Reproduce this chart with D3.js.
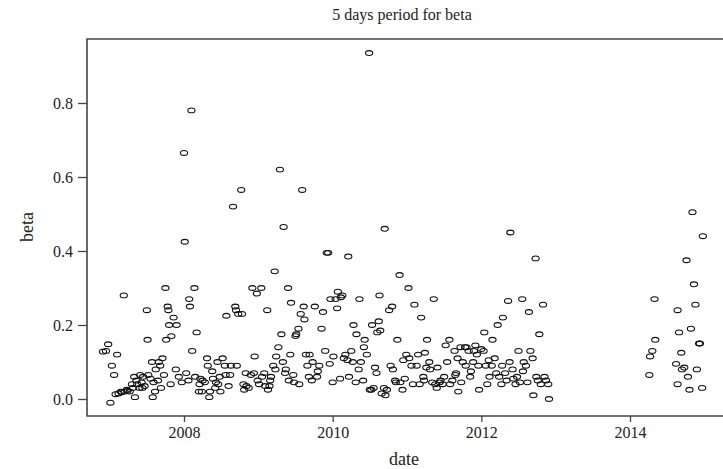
<!DOCTYPE html>
<html><head><meta charset="utf-8">
<script src="https://cdn.jsdelivr.net/npm/d3@7"></script>
<style>body{margin:0;background:#fff}text{font-family:"Liberation Serif","DejaVu Serif",serif}</style>
</head><body><div id="chart"></div>
<script>
var dates = [2006.91,2006.95,2006.98,2007.01,2007.03,2007.06,2007.08,2007.10,2007.12,2007.15,2007.16,2007.19,2007.20,2007.23,2007.24,2007.27,2007.30,2007.31,2007.33,2007.34,2007.36,2007.37,2007.40,2007.41,2007.43,2007.44,2007.45,2007.47,
2007.50,2007.51,2007.52,2007.55,2007.57,2007.58,2007.59,2007.61,2007.62,2007.65,2007.66,2007.68,2007.69,2007.71,2007.73,2007.75,2007.76,2007.78,2007.79,2007.80,2007.82,2007.83,2007.86,2007.89,2007.90,2007.93,2007.97,2008.00,2008.01,2008.03,
2008.06,2008.07,2008.08,2008.10,2008.11,2008.14,2008.15,2008.17,2008.20,2008.21,2008.22,2008.24,2008.25,2008.28,2008.31,2008.32,2008.34,2008.35,2008.38,2008.39,2008.42,2008.43,2008.45,2008.46,2008.48,2008.49,2008.52,2008.55,2008.56,2008.57,2008.60,2008.62,2008.63,2008.66,2008.69,2008.70,2008.71,2008.73,
2008.77,2008.78,2008.80,2008.81,2008.83,2008.84,2008.87,2008.90,2008.92,2008.94,2008.95,2008.98,2008.99,2009.01,2009.04,2009.05,2009.08,2009.09,2009.12,2009.13,2009.15,2009.16,2009.17,2009.20,2009.22,2009.23,2009.24,2009.27,2009.29,2009.31,2009.33,2009.34,2009.36,2009.37,2009.40,2009.41,2009.43,2009.44,2009.47,2009.48,2009.50,2009.51,2009.54,2009.55,2009.57,
2009.59,2009.61,2009.62,2009.64,2009.66,2009.68,2009.69,2009.72,2009.73,2009.76,2009.79,2009.80,2009.82,2009.85,2009.87,2009.90,2009.92,2009.94,2009.96,2009.97,2010.00,2010.01,2010.04,2010.06,2010.07,2010.10,2010.11,2010.13,2010.15,2010.17,2010.20,2010.21,2010.22,2010.25,2010.27,2010.28,2010.31,2010.32,2010.35,2010.36,2010.38,2010.41,
2010.42,2010.43,2010.46,2010.49,2010.50,2010.52,2010.53,2010.55,2010.57,2010.59,2010.60,2010.62,2010.63,2010.64,2010.66,2010.69,2010.70,2010.71,2010.73,2010.76,2010.78,2010.80,2010.81,2010.84,2010.85,2010.87,2010.90,2010.91,2010.94,2010.95,2010.97,2010.99,2011.02,2011.03,2011.06,2011.08,2011.10,2011.13,2011.15,2011.17,2011.19,2011.22,2011.23,2011.24,
2011.26,2011.27,2011.30,2011.31,2011.34,2011.36,2011.38,2011.40,2011.41,2011.44,2011.45,2011.48,2011.50,2011.52,2011.54,2011.57,2011.58,2011.61,2011.64,2011.65,2011.66,2011.68,2011.69,2011.72,2011.73,2011.75,2011.78,2011.79,2011.80,2011.83,2011.85,2011.86,2011.89,2011.90,2011.92,2011.94,2011.96,2011.97,2012.00,2012.03,2012.04,2012.06,2012.08,
2012.10,2012.11,2012.14,2012.15,2012.18,2012.20,2012.22,2012.24,2012.27,2012.28,2012.29,2012.32,2012.34,2012.36,2012.38,2012.39,2012.42,2012.43,2012.46,2012.48,2012.50,2012.52,2012.55,2012.56,2012.57,2012.60,2012.62,2012.64,2012.66,2012.69,2012.70,2012.73,2012.74,2012.76,2012.78,2012.80,2012.83,2012.85,2012.87,2012.90,2012.91,
2014.26,2014.27,2014.30,2014.33,2014.34,2014.62,2014.64,2014.64,2014.66,2014.69,2014.70,2014.73,2014.76,2014.78,2014.80,2014.82,2014.84,2014.86,2014.88,2014.90,2014.93,2014.94,2014.97,2014.98];
var betas = [.128,.13,.148,-.01,.09,.065,.013,.12,.015,.02,.018,.28,.02,.025,.022,.02,.04,.03,.06,.005,.05,.04,.03,.065,.045,.03,.06,.035,
.24,.16,.065,.055,.1,.005,.045,.02,.08,.05,.1,.09,.03,.11,.065,.3,.16,.25,.24,.2,.04,.17,.22,.08,.2,.06,.045,.665,.425,.07,
.05,.27,.25,.78,.13,.3,.06,.18,.02,.04,.055,.02,.05,.045,.11,.09,.005,.02,.075,.055,.03,.045,.1,.04,.06,.02,.11,.09,.065,.225,.035,.065,.09,.52,.25,.24,.09,.23,
.565,.23,.04,.025,.07,.035,.03,.065,.3,.07,.115,.285,.05,.04,.3,.06,.07,.035,.24,.025,.035,.05,.06,.09,.345,.08,.115,.14,.62,.175,.1,.465,.07,.08,.3,.05,.12,.26,.065,.045,.17,.175,.19,.04,.23,
.565,.25,.215,.12,.09,.06,.12,.05,.1,.25,.06,.075,.09,.19,.235,.13,.395,.395,.095,.27,.045,.115,.27,.245,.29,.055,.275,.28,.11,.12,.105,.385,.06,.13,.1,.2,.045,.175,.08,.27,.1,.05,
.14,.16,.12,.935,.025,.025,.2,.03,.085,.07,.18,.21,.28,.185,.015,.03,.46,.01,.025,.24,.09,.25,.08,.05,.045,.16,.335,.045,.025,.105,.055,.12,.3,.11,.09,.04,.255,.09,.12,.04,.22,.06,.05,.125,
.085,.16,.1,.08,.045,.27,.04,.03,.085,.045,.05,.04,.06,.145,.1,.16,.04,.05,.13,.065,.07,.11,.02,.14,.045,.1,.14,.09,.14,.13,.06,.075,.1,.13,.145,.12,.09,.025,.135,.13,.18,.09,.04,
.105,.06,.09,.16,.11,.07,.2,.06,.04,.09,.22,.07,.05,.265,.1,.45,.08,.055,.04,.06,.13,.045,.27,.075,.1,.09,.045,.235,.13,.11,.01,.38,.06,.05,.175,.04,.255,.06,.05,.04,0,
.065,.115,.13,.27,.16,.095,.24,.04,.18,.125,.08,.085,.375,.06,.025,.19,.505,.31,.255,.08,.15,.15,.03,.44];
var xTicks = [2008, 2010, 2012, 2014];
var yTicks = [0, 0.2, 0.4, 0.6, 0.8];

var width = 723, height = 469;
var mLeft = 87, mRight = 740, mTop = 39, mBottom = 416;
var svg = d3.select("#chart").append("svg").attr("width", width).attr("height", height);

// 2008 sits at x=184, 2014 at x=630
var x = d3.scaleLinear().domain([2008, 2014]).range([184, 630]);
var y = d3.scaleLinear().domain([0, 0.8]).range([399, 103]);

var frame = d3.path();
frame.moveTo(mRight, mTop); frame.lineTo(mLeft, mTop); frame.lineTo(mLeft, mBottom); frame.lineTo(mRight, mBottom);
svg.append("path").attr("d", frame.toString())
	.attr("fill", "none").attr("stroke", "#444").attr("stroke-width", 1.6);

var xAxis = svg.append("g").attr("transform", "translate(0," + mBottom + ")")
	.call(d3.axisBottom(x).tickValues(xTicks).tickFormat(d3.format("d")).tickSize(6).tickPadding(5));
var yAxis = svg.append("g").attr("transform", "translate(" + mLeft + ",0)")
	.call(d3.axisLeft(y).tickValues(yTicks).tickFormat(d3.format(".1f")).tickSize(9).tickPadding(5));
[xAxis, yAxis].forEach(function(a){
	a.select(".domain").remove();
	a.selectAll("line").attr("stroke", "#444").attr("stroke-width", 1.3);
	a.selectAll("text").attr("font-size", 16).attr("font-family", "Liberation Serif").attr("fill", "#222");
});

svg.append("g").selectAll("ellipse").data(dates).enter().append("ellipse")
	.attr("cx", function(d){ return x(d); })
	.attr("cy", function(d, i){ return y(betas[i]); })
	.attr("rx", 3.6).attr("ry", 2.4)
	.attr("fill", "none").attr("stroke", "#111").attr("stroke-width", 1.1);

svg.append("text").attr("x", 402).attr("y", 20).attr("text-anchor", "middle")
	.attr("font-size", 16).attr("fill", "#222").text("5 days period for beta");
svg.append("text").attr("x", 404).attr("y", 465).attr("text-anchor", "middle")
	.attr("font-size", 18).attr("fill", "#222").text("date");
svg.append("text").attr("transform", "translate(33,227) rotate(-90)").attr("text-anchor", "middle")
	.attr("font-size", 18).attr("fill", "#222").text("beta");
</script></body></html>
